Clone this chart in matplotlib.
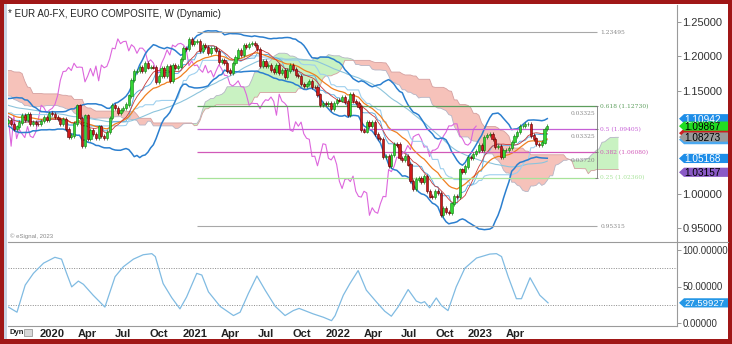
"""Weekly EUR/USD chart with Ichimoku, Bollinger bands, Fibonacci levels and an oscillator pane."""

import matplotlib

matplotlib.use("Agg")

import matplotlib.dates as mdates
import matplotlib.pyplot as plt
import numpy as np
import pandas as pd
from matplotlib.lines import Line2D
from matplotlib.patches import Polygon, Rectangle

# weekly closes, first week ends 2018-03-02 (candles drawn mid-week)
FIRST_WEEK = "2018-02-28"
CLOSE_2018 = [1.2317, 1.2307, 1.2288, 1.2353, 1.2323, 1.2280, 1.2330, 1.2288, 1.2130, 1.1960,
              1.1940, 1.1770, 1.1650, 1.1660, 1.1770, 1.1610, 1.1655, 1.1685, 1.1745, 1.1685,
              1.1720, 1.1655, 1.1565, 1.1410, 1.1440, 1.1620, 1.1600, 1.1550, 1.1625, 1.1760,
              1.1605, 1.1525, 1.1560, 1.1510, 1.1405, 1.1385, 1.1335, 1.1415, 1.1340, 1.1315,
              1.1380, 1.1305, 1.1370, 1.1440]
CLOSE_2019 = [1.1395, 1.1470, 1.1365, 1.1405, 1.1455, 1.1325, 1.1295, 1.1335, 1.1365, 1.1235,
              1.1325, 1.1300, 1.1220, 1.1215, 1.1305, 1.1245, 1.1150, 1.1200, 1.1235, 1.1160,
              1.1205, 1.1170, 1.1335, 1.1210, 1.1370, 1.1370, 1.1225, 1.1270, 1.1220, 1.1125,
              1.1110, 1.1200, 1.1090, 1.1145, 1.0990, 1.1030, 1.1075, 1.1015, 1.0940, 1.0980,
              1.1040, 1.1145, 1.1080, 1.1165, 1.1020, 1.1050, 1.1020, 1.1015, 1.1060, 1.1120,
              1.1080, 1.1175]
CLOSE_2020 = [1.1160, 1.1120, 1.1090, 1.1025, 1.1090, 1.0945, 1.0830, 1.0850, 1.1025, 1.1285,
              1.1105, 1.0695, 1.1140, 1.0805, 1.0935, 1.0875, 1.0820, 1.0980, 1.0840, 1.0820,
              1.0900, 1.1100, 1.1290, 1.1255, 1.1180, 1.1220, 1.1245, 1.1300, 1.1430, 1.1655,
              1.1780, 1.1785, 1.1840, 1.1795, 1.1900, 1.1840, 1.1845, 1.1840, 1.1630, 1.1715,
              1.1825, 1.1715, 1.1860, 1.1645, 1.1875, 1.1835, 1.1855, 1.1960, 1.2120, 1.2110,
              1.2255, 1.2185]
CLOSE_2021 = [1.2215, 1.2220, 1.2080, 1.2170, 1.2135, 1.2045, 1.2120, 1.2120, 1.2075, 1.1915,
              1.1950, 1.1905, 1.1795, 1.1760, 1.1900, 1.1985, 1.2095, 1.2020, 1.2165, 1.2140,
              1.2180, 1.2190, 1.2165, 1.2105, 1.1865, 1.1935, 1.1865, 1.1875, 1.1810, 1.1770,
              1.1870, 1.1760, 1.1795, 1.1700, 1.1795, 1.1880, 1.1815, 1.1725, 1.1720, 1.1595,
              1.1570, 1.1600, 1.1645, 1.1560, 1.1555, 1.1445, 1.1290, 1.1320, 1.1315, 1.1315,
              1.1240, 1.1320, 1.1370]
CLOSE_2022 = [1.1360, 1.1410, 1.1345, 1.1145, 1.1450, 1.1350, 1.1320, 1.1270, 1.0930, 1.0910,
              1.1050, 1.0985, 1.1045, 1.0875, 1.0810, 1.0795, 1.0545, 1.0550, 1.0410, 1.0565,
              1.0730, 1.0720, 1.0520, 1.0495, 1.0555, 1.0430, 1.0185, 1.0080, 1.0210, 1.0225,
              1.0180, 1.0260, 1.0040, 0.9965, 0.9955, 1.0040, 1.0015, 0.9690, 0.9800, 0.9740,
              0.9720, 0.9860, 0.9965, 0.9960, 1.0355, 1.0325, 1.0400, 1.0535, 1.0530, 1.0585,
              1.0620, 1.0705]
CLOSE_2023 = [1.0645, 1.0830, 1.0855, 1.0870, 1.0795, 1.0680, 1.0695, 1.0545, 1.0635, 1.0640,
              1.0670, 1.0760, 1.0840, 1.0900, 1.0990, 1.0990, 1.1020, 1.1020, 1.0850, 1.0805,
              1.0725, 1.0710, 1.0750, 1.0940, 1.0987]

# oscillator pane
OSC_DATES = ["2019-09-11", "2019-10-03", "2019-10-24", "2019-11-14", "2019-12-10", "2020-01-08",
             "2020-01-25", "2020-02-07", "2020-02-20", "2020-03-08", "2020-03-21", "2020-04-15",
             "2020-05-15", "2020-06-10", "2020-07-01", "2020-07-27", "2020-08-21", "2020-09-12",
             "2020-09-21", "2020-10-11", "2020-11-02", "2020-11-23", "2020-12-10", "2021-01-05",
             "2021-01-18", "2021-02-04", "2021-03-06", "2021-04-09", "2021-04-26", "2021-05-17",
             "2021-06-08", "2021-06-29", "2021-07-25", "2021-08-19", "2021-09-09", "2021-09-24",
             "2021-10-30", "2021-11-25", "2021-12-16", "2021-12-25", "2022-01-15", "2022-02-01",
             "2022-02-22", "2022-03-15", "2022-04-10", "2022-05-01", "2022-05-18", "2022-06-04",
             "2022-06-30", "2022-07-21", "2022-08-02", "2022-08-11", "2022-08-24", "2022-09-10",
             "2022-09-23", "2022-10-10", "2022-10-31", "2022-11-22", "2022-12-22", "2023-01-25",
             "2023-02-11", "2023-02-24", "2023-03-13", "2023-04-03", "2023-04-16", "2023-05-08",
             "2023-06-02", "2023-06-23"]
OSC_VALUES = [21.8, 14.8, 51.9, 68.0, 82.0, 90.0, 87.5, 68.0, 49.5, 57.4, 53.0, 38.0,
              21.8, 63.4, 77.0, 87.5, 93.5, 95.0, 91.0, 54.0, 34.7, 19.4, 35.6, 68.0,
              65.7, 42.6, 22.7, 10.2, 14.8, 40.3, 64.4, 45.0, 22.7, 10.2, 17.0, 20.0,
              12.5, 7.9, 3.2, 10.0, 38.0, 54.0, 71.8, 45.0, 28.7, 16.2, 9.3, 21.8,
              45.8, 30.0, 27.3, 29.2, 20.8, 34.3, 24.0, 17.0, 49.5, 75.0, 89.0, 94.4,
              95.0, 91.0, 63.4, 33.3, 33.3, 62.0, 38.0, 27.6]

FIB_HIGH = 1.23495
FIB_LOW = 0.95315
FIB_RATIOS = [0.618, 0.5, 0.382, 0.25]
FIB_START = "2021-01-06"
FIB_END = "2023-10-25"

# right-scale value tags (the first two sit mostly hidden under the others)
HIDDEN_TAGS = [1.08850, 1.07900]
PRICE_TAGS = [1.10942, 1.09867, 1.08273, 1.05168, 1.03157]
OSC_TAG = 27.59927

PRICE_TICKS = [0.95, 1.00, 1.15, 1.20, 1.25]
OSC_TICKS = [0, 50, 100]
XTICK_DATES = ["2020-01-01", "2020-04-01", "2020-07-01", "2020-10-01", "2021-01-01", "2021-04-01",
               "2021-07-01", "2021-10-01", "2022-01-01", "2022-04-01", "2022-07-01", "2022-10-01",
               "2023-01-01", "2023-04-01"]
XTICK_LABELS = ["2020", "Apr", "Jul", "Oct", "2021", "Apr", "Jul", "Oct", "2022", "Apr", "Jul",
                "Oct", "2023", "Apr"]

COLORS = {
    "frame": "#a01717",
    "up": "#33d633",
    "up_edge": "#0f7a0f",
    "down": "#d01a1a",
    "down_edge": "#5a0000",
    "boll": "#2b7fcf",
    "ema": "#f08020",
    "sma": "#c83a3a",
    "tenkan": "#62b0e4",
    "kijun": "#9fd0ee",
    "slow": "#8cc4dc",
    "chikou": "#dd66dd",
    "cloud_up": "#c9f2c2",
    "cloud_dn": "#f6c2ba",
    "span_a": "#b5b5c5",
    "span_b": "#d4a0a0",
    "osc": "#80bbe2",
    "text": "#222222",
}
FIB_COLORS = ["#5c9e5c", "#c65fd6", "#d159b8", "#a8e39a"]
HIDDEN_TAG_COLORS = ["#cc2020", "#4aa8f0"]
TAG_COLORS = [("#1d8de8", "white"), ("#22dd22", "black"), ("#9a9a9a", "black"),
              ("#1d8de8", "white"), ("#8a5ac6", "black")]

W, H = 732, 344
WICK = 0.003


def fx(px):
    return px / W


def fy(py):
    return 1 - py / H


def draw_tag(fig, ax, value, bg, fg=None, text=None, size=7.2):
    # arrow-shaped tag on the right scale, built in figure pixels
    yc = H - ax.transData.transform((0, value))[1]
    h = 4.6
    pts = [(679, yc), (684, yc - h), (728, yc - h), (728, yc + h), (684, yc + h)]
    fig.add_artist(Polygon([(fx(px), fy(py)) for px, py in pts], closed=True,
                           transform=fig.transFigure, facecolor=bg, edgecolor="none", zorder=4))
    if text:
        fig.text(fx(684), fy(yc), text, fontsize=size, color=fg, ha="left", va="center_baseline",
                 zorder=5)


def main():
    plt.rcParams["font.family"] = ["Liberation Sans", "DejaVu Sans"]

    closes = np.array(CLOSE_2018 + CLOSE_2019 + CLOSE_2020 + CLOSE_2021 + CLOSE_2022 + CLOSE_2023)
    n = len(closes)
    opens = np.r_[closes[0], closes[:-1]]
    x_ext = mdates.date2num(pd.date_range(FIRST_WEEK, periods=n + 26, freq="7D"))
    x = x_ext[:n]

    s = pd.Series(closes)
    hi = pd.Series(np.maximum(opens, closes))
    lo = pd.Series(np.minimum(opens, closes))

    tenkan = (hi.rolling(9).max() + lo.rolling(9).min()) / 2
    kijun = (hi.rolling(26).max() + lo.rolling(26).min()) / 2
    span_a = ((tenkan + kijun) / 2).to_numpy()
    span_b = ((hi.rolling(52).max() + lo.rolling(52).min()) / 2).to_numpy()
    mid = s.rolling(20).mean()
    sd = s.rolling(20).std(ddof=0)

    fig = plt.figure(figsize=(W / 100, H / 100), dpi=100, facecolor=COLORS["frame"])
    fig.add_artist(Rectangle((fx(4), fy(339)), fx(724), 335 / H, transform=fig.transFigure,
                             facecolor="white", edgecolor="none", zorder=0))
    fig.add_artist(Rectangle((fx(4), fy(339)), fx(3), 335 / H, transform=fig.transFigure,
                             facecolor="#c9d3e3", edgecolor="none", zorder=0))

    ax = fig.add_axes([fx(8), fy(241), fx(669), 236 / H])
    ax2 = fig.add_axes([fx(8), fy(326), fx(669), 84 / H], sharex=ax)
    for a in (ax, ax2):
        a.set_facecolor("none")
        for sp in a.spines.values():
            sp.set_visible(False)

    # ichimoku cloud, shifted forward 26 weeks
    xa = x_ext[26:]
    ax.fill_between(xa, span_a, span_b, where=span_a >= span_b, interpolate=True,
                    color=COLORS["cloud_up"], lw=0, zorder=1)
    ax.fill_between(xa, span_a, span_b, where=span_a < span_b, interpolate=True,
                    color=COLORS["cloud_dn"], lw=0, zorder=1)
    ax.plot(xa, span_a, color=COLORS["span_a"], lw=0.6, zorder=1.5)
    ax.plot(xa, span_b, color=COLORS["span_b"], lw=0.6, zorder=1.5)

    ax.plot(x[:-26], closes[26:], color=COLORS["chikou"], lw=0.8, zorder=2)
    ax.plot(x, s.rolling(50).mean(), color=COLORS["slow"], lw=0.8, zorder=2)
    ax.plot(x, kijun, color=COLORS["kijun"], lw=0.8, zorder=2)
    ax.plot(x, tenkan, color=COLORS["tenkan"], lw=0.7, zorder=2)
    ax.plot(x, s.ewm(span=20, adjust=False).mean(), color=COLORS["ema"], lw=0.9, zorder=2.5)
    ax.plot(x, s.rolling(10).mean(), color=COLORS["sma"], lw=0.6, zorder=2.5)
    ax.plot(x, mid + 2 * sd, color=COLORS["boll"], lw=1.1, zorder=2.6)
    ax.plot(x, mid - 2 * sd, color=COLORS["boll"], lw=1.1, zorder=2.6)

    # candles
    up = closes >= opens
    for mask, face, edge in ((up, COLORS["up"], COLORS["up_edge"]),
                             (~up, COLORS["down"], COLORS["down_edge"])):
        ax.vlines(x[mask], lo[mask] - WICK, hi[mask] + WICK, color=edge, lw=0.5, zorder=3)
        ax.bar(x[mask], np.abs(closes - opens)[mask] + 0.0004, bottom=lo[mask] - 0.0002,
               width=5.5, color=face, edgecolor=edge, linewidth=0.4, zorder=4)

    # fibonacci retracement
    x0, x1 = mdates.date2num(pd.Timestamp(FIB_START)), mdates.date2num(pd.Timestamp(FIB_END))
    levels = FIB_LOW + np.array(FIB_RATIOS) * (FIB_HIGH - FIB_LOW)
    fs = 4.3
    for val in (FIB_HIGH, FIB_LOW):
        ax.hlines(val, x0, x1, color="#a8a8a8", lw=0.8, zorder=2.7)
        ax.text(x1 + 10, val, f"{val:.5f}", color="#888888", fontsize=fs, va="center",
                family="DejaVu Serif", zorder=5)
    for ratio, val, col in zip(FIB_RATIOS, levels, FIB_COLORS):
        ax.hlines(val, x0, x1, color=col, lw=0.9, zorder=2.7)
        ax.text(x1 + 10, val, f"{ratio:g} ({val:.5f})", color=col, fontsize=fs, va="center",
                family="DejaVu Serif", zorder=5)
        ax.hlines(val, x1 - 4, x1 + 4, color="#777777", lw=0.6, zorder=5)
    ax.vlines(x1, levels[-1], levels[0], color="#777777", lw=0.6, zorder=5)
    for a_, b_ in zip(levels[:-1], levels[1:]):
        ax.text(x1 - 4, (a_ + b_) / 2 + 0.006, f"{a_ - b_:.5f}", color="#888888", fontsize=fs,
                ha="right", va="center", family="DejaVu Serif", zorder=5)

    # axes ranges and ticks
    ax.set_xlim(mdates.date2num(pd.Timestamp("2019-09-10")), mdates.date2num(pd.Timestamp("2024-05-18")))
    ax.set_ylim(1.25 - 219 / 688, 1.25 + 17 / 688)
    ax2.set_ylim(-3 / 0.73, 100 + 8 / 0.73)

    for a, ticks, size in ((ax, PRICE_TICKS, 8), (ax2, OSC_TICKS, 7)):
        a.yaxis.tick_right()
        a.set_yticks(ticks)
        a.set_yticklabels([f"{t:.5f}" for t in ticks])
        a.tick_params(axis="y", length=3, width=0.6, color="#888888", labelsize=size,
                      labelcolor="#333333", pad=1)
    ax.tick_params(axis="x", bottom=False, labelbottom=False)
    ax2.set_xticks(mdates.date2num(pd.to_datetime(XTICK_DATES)))
    ax2.set_xticklabels(XTICK_LABELS, fontweight="bold", fontsize=8, color=COLORS["text"])
    ax2.tick_params(axis="x", length=0, pad=2)

    # oscillator
    for lvl in (75, 25):
        ax2.axhline(lvl, color="#8a8a8a", lw=0.7, ls=(0, (1, 1.5)), zorder=1)
    ax2.plot(mdates.date2num(pd.to_datetime(OSC_DATES)), OSC_VALUES, color=COLORS["osc"], lw=0.9, zorder=2)

    # value tags on the right scale
    for val, bg in zip(HIDDEN_TAGS, HIDDEN_TAG_COLORS):
        draw_tag(fig, ax, val, bg)
    for val, (bg, fg) in zip(PRICE_TAGS, TAG_COLORS):
        draw_tag(fig, ax, val, bg, fg, f"{val:.5f}")
    draw_tag(fig, ax2, OSC_TAG, "#2597e6", "white", f"{OSC_TAG:.5f}", size=6.8)

    # separators
    for xs, ys in (([8, 728], [241.5, 241.5]), ([677, 677], [5, 326]), ([8, 677], [326, 326])):
        fig.add_artist(Line2D([fx(v) for v in xs], [fy(v) for v in ys], color="#9a9a9a", lw=0.8))

    fig.text(fx(8), fy(14), "* EUR A0-FX, EURO COMPOSITE, W (Dynamic)", fontsize=7,
             color=COLORS["text"], va="center")
    fig.text(fx(10), fy(236), "© eSignal, 2023", fontsize=4.3, color="#888888", va="center")
    fig.text(fx(9), fy(332), "Dyn", fontsize=5.5, fontweight="bold", color=COLORS["text"], va="center")
    fig.add_artist(Rectangle((fx(24), fy(336)), fx(8), 7 / H, transform=fig.transFigure,
                             facecolor="#d8d8d8", edgecolor="#888888", lw=0.5))

    fig.savefig("out.png", dpi=100, facecolor=fig.get_facecolor())
    plt.close(fig)


if __name__ == "__main__":
    main()
